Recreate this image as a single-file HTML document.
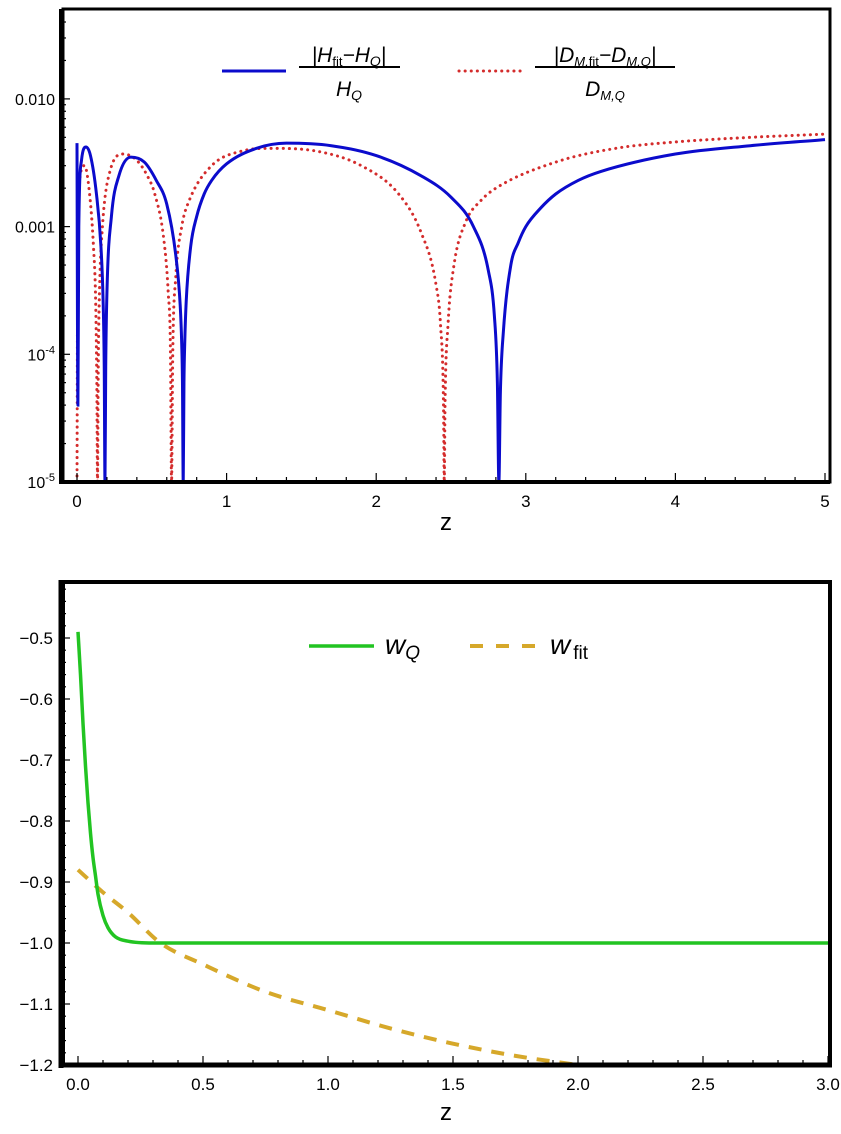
<!DOCTYPE html>
<html><head><meta charset="utf-8"><style>
html,body{margin:0;padding:0;background:#fff;}
svg{display:block;font-family:"Liberation Sans",Arial,sans-serif;}
</style></head><body>
<svg id="fig" width="841" height="1134" viewBox="0 0 841 1134" xmlns="http://www.w3.org/2000/svg">
<defs><clipPath id="cT"><rect x="61" y="9" width="769" height="473"/></clipPath></defs>
<g id="topChart"></g>
<g id="botChart"></g>
</svg>
<script>
// ---- top chart data ----
const hZ = [0,0.003,0.006,0.012,0.03,0.06,0.09,0.13,0.16,0.175,0.182,0.187,0.192,0.2,0.23,0.28,0.36,0.45,0.53,0.6,0.66,0.69,0.7,0.705,0.71,0.715,0.72,0.73,0.76,0.8,0.85,0.9,1.0,1.2,1.4,1.7,2.0,2.3,2.5,2.65,2.75,2.79,2.81,2.82,2.83,2.85,2.9,2.95,3.0,3.1,3.2,3.35,3.5,4.0,4.5,5.0];
const hVal = [4.5e-3,2e-4,4e-5,1e-3,3.3e-3,4.2e-3,3.6e-3,1.8e-3,7e-4,2.5e-4,8e-5,1e-5,8e-5,3e-4,1.2e-3,2.5e-3,3.5e-3,3.2e-3,2.3e-3,1.5e-3,6e-4,2.4e-4,1.2e-4,6e-5,1e-5,6e-5,1.2e-4,2.6e-4,7e-4,1.2e-3,1.8e-3,2.3e-3,3.1e-3,4.1e-3,4.5e-3,4.3e-3,3.6e-3,2.5e-3,1.7e-3,1e-3,4.5e-4,2e-4,6e-5,1e-5,5e-5,1.5e-4,5e-4,7.5e-4,1e-3,1.4e-3,1.8e-3,2.3e-3,2.7e-3,3.7e-3,4.3e-3,4.8e-3];
const dZ = [0,0.004,0.012,0.03,0.05,0.08,0.11,0.125,0.133,0.137,0.142,0.15,0.17,0.22,0.31,0.4,0.47,0.52,0.58,0.61,0.625,0.632,0.64,0.66,0.7,0.75,0.9,1.1,1.3,1.6,1.9,2.15,2.3,2.4,2.43,2.45,2.455,2.46,2.48,2.52,2.6,2.7,2.8,3.2,3.6,4.0,4.5,5.0];
const dVal = [1e-5,3e-4,1.5e-3,2.8e-3,3e-3,2e-3,7e-4,2.5e-4,5e-5,1e-5,8e-5,3e-4,1e-3,2.7e-3,3.7e-3,3.3e-3,2.5e-3,1.8e-3,8e-4,3e-4,1e-4,1e-5,1e-4,4e-4,1e-3,1.6e-3,3e-3,3.9e-3,4.1e-3,3.9e-3,3e-3,1.8e-3,9e-4,3.5e-4,1.7e-4,4e-5,1e-5,4e-5,1.7e-4,5e-4,1.1e-3,1.6e-3,2e-3,3.2e-3,4.1e-3,4.6e-3,5e-3,5.3e-3];
const topXTicks = [0,1,2,3,4,5];
const topYTicks = [1e-5,1e-4,1e-3,1e-2];
const topYLabels = ["10<tspan dy='-7' font-size='11'>-5</tspan>","10<tspan dy='-7' font-size='11'>-4</tspan>","0.001","0.010"];
// ---- bottom chart data ----
const wQZ = [0,0.01,0.02,0.03,0.04,0.05,0.06,0.07,0.08,0.1,0.12,0.15,0.2,0.3,3.0];
const wQVal = [-0.49,-0.56,-0.64,-0.71,-0.77,-0.82,-0.86,-0.89,-0.92,-0.955,-0.975,-0.99,-0.997,-1.0,-1.0];
const wFZ = [0,0.1,0.2,0.33,0.5,0.75,1.0,1.25,1.5,1.75,2.0];
const wFVal = [-0.88,-0.917,-0.95,-1.0,-1.035,-1.08,-1.11,-1.14,-1.165,-1.185,-1.2];
const botXTicks = [0,0.5,1.0,1.5,2.0,2.5,3.0];
const botYTicks = [-1.2,-1.1,-1.0,-0.9,-0.8,-0.7,-0.6,-0.5];

const NS="http://www.w3.org/2000/svg";
function mk(parent,tag,attrs){const e=document.createElementNS(NS,tag);for(const k in attrs)e.setAttribute(k,attrs[k]);parent.appendChild(e);return e;}
// monotone cubic path through screen points
function monoPath(P){
  const n=P.length;if(n<2)return '';
  const d=[],m=[];
  for(let i=0;i<n-1;i++)d.push((P[i+1][1]-P[i][1])/Math.max(P[i+1][0]-P[i][0],1e-6));
  m[0]=d[0];m[n-1]=d[n-2];
  for(let i=1;i<n-1;i++){m[i]=(d[i-1]*d[i]<=0)?0:(d[i-1]+d[i])/2;}
  for(let i=0;i<n-1;i++){if(d[i]===0){m[i]=0;m[i+1]=0;continue;}const a=m[i]/d[i],b=m[i+1]/d[i],s=a*a+b*b;if(s>9){const t=3/Math.sqrt(s);m[i]=t*a*d[i];m[i+1]=t*b*d[i];}}
  let s='M'+P[0][0].toFixed(2)+','+P[0][1].toFixed(2);
  for(let i=0;i<n-1;i++){const h=(P[i+1][0]-P[i][0])/3;
    s+=' C'+(P[i][0]+h).toFixed(2)+','+(P[i][1]+m[i]*h).toFixed(2)+' '+(P[i+1][0]-h).toFixed(2)+','+(P[i+1][1]-m[i+1]*h).toFixed(2)+' '+P[i+1][0].toFixed(2)+','+P[i+1][1].toFixed(2);}
  return s;
}

// top axes
const T={l:61,r:830,t:9,b:482};
const tx=z=>77+z*149.6;
const ty=v=>482-(Math.log10(v)+5)*127.7;
const topG=document.getElementById('topChart');
function pts(xs,ys,fx,fy,lim){return xs.map((x,i)=>[fx(x),Math.min(fy(ys[i]),lim)]);}
const dl=mk(topG,'path',{d:monoPath(pts(dZ,dVal,tx,ty,T.b+3)),fill:'none',stroke:'#d42c2c','stroke-width':3,'stroke-dasharray':'0.1 6','stroke-linecap':'round','clip-path':'url(#cT)'});


const hl=mk(topG,'path',{d:monoPath(pts(hZ,hVal,tx,ty,T.b+3)),fill:'none',stroke:'#0b0bcc','stroke-width':3,'clip-path':'url(#cT)'});


mk(topG,'rect',{x:T.l+2,y:T.t,width:T.r-T.l-2,height:T.b-T.t,fill:'none',stroke:'#000','stroke-width':3});
mk(topG,'line',{x1:T.l,y1:T.t,x2:T.l,y2:T.b+2,stroke:'#000','stroke-width':4});
mk(topG,'line',{x1:T.l,y1:T.b,x2:T.r,y2:T.b,stroke:'#000','stroke-width':4});
for(let i=0;i<=25;i++){const x=tx(i*0.2);const maj=i%5==0;mk(topG,'line',{x1:x,y1:T.b,x2:x,y2:T.b-(maj?9:5),stroke:'#000','stroke-width':1.2});}
topXTicks.forEach(v=>{const t=mk(topG,'text',{x:tx(v),y:507,'font-size':17,'text-anchor':'middle'});t.textContent=v;

});
for(let d=-5;d<-1;d++)for(let m=1;m<10;m++){const v=m*Math.pow(10,d);const y=ty(v);if(y<T.t)continue;mk(topG,'line',{x1:T.l,y1:y,x2:T.l+(m==1?9:5),y2:y,stroke:'#000','stroke-width':1.2});}
topYTicks.forEach((v,i)=>{const t=mk(topG,'text',{x:55,y:ty(v)+6,'font-size':16,'text-anchor':'end'});t.innerHTML=topYLabels[i];

});
const zt=mk(topG,'text',{x:446,y:530,'font-size':24,'text-anchor':'middle'});zt.textContent='z';


// legend top
const lg=mk(topG,'g',{});


mk(lg,'line',{x1:222,y1:71,x2:286,y2:71,stroke:'#0b0bcc','stroke-width':3});
mk(lg,'line',{x1:299,y1:67,x2:400,y2:67,stroke:'#000','stroke-width':2});
const l1=mk(lg,'text',{x:349,y:62,'font-size':21,'text-anchor':'middle','font-style':'italic'});
l1.innerHTML='|H<tspan font-size="13" font-style="normal" dy="4">fit</tspan><tspan dy="-4">−H</tspan><tspan font-size="14" dy="4">Q</tspan><tspan dy="-4">|</tspan>';
const l2=mk(lg,'text',{x:349,y:96,'font-size':21,'text-anchor':'middle','font-style':'italic'});
l2.innerHTML='H<tspan font-size="14" dy="4">Q</tspan>';
mk(lg,'line',{x1:459,y1:71,x2:523,y2:71,stroke:'#d42c2c','stroke-width':3,'stroke-dasharray':'0.1 6','stroke-linecap':'round'});
mk(lg,'line',{x1:535,y1:67,x2:675,y2:67,stroke:'#000','stroke-width':2});
const l3=mk(lg,'text',{x:605,y:62,'font-size':21,'text-anchor':'middle','font-style':'italic'});
l3.innerHTML='|D<tspan font-size="13" dy="4">M,</tspan><tspan font-size="13" font-style="normal">fit</tspan><tspan dy="-4">−D</tspan><tspan font-size="13" dy="4">M,Q</tspan><tspan dy="-4">|</tspan>';
const l4=mk(lg,'text',{x:605,y:96,'font-size':21,'text-anchor':'middle','font-style':'italic'});
l4.innerHTML='D<tspan font-size="13" dy="4">M,Q</tspan>';

// bottom axes
const B={l:61,r:830,t:582,b:1065};
const bx=z=>78+z*250;
const by=v=>1065-(v+1.2)*610;
const botG=document.getElementById('botChart');
const fl=mk(botG,'path',{d:monoPath(pts(wFZ,wFVal,bx,by,2000)),fill:'none',stroke:'#d6a82a','stroke-width':4,'stroke-dasharray':'13 10'});


const gl=mk(botG,'path',{d:monoPath(pts(wQZ,wQVal,bx,by,2000)),fill:'none',stroke:'#22c422','stroke-width':3.5});


mk(botG,'rect',{x:B.l+2,y:B.t,width:B.r-B.l-2,height:B.b-B.t,fill:'none',stroke:'#000','stroke-width':4});
mk(botG,'line',{x1:B.l,y1:B.t-2,x2:B.l,y2:B.b+3,stroke:'#000','stroke-width':5});
mk(botG,'line',{x1:B.l,y1:B.b,x2:B.r+2,y2:B.b,stroke:'#000','stroke-width':5});
for(let i=0;i<=30;i++){const x=bx(i*0.1);const maj=i%5==0;mk(botG,'line',{x1:x,y1:B.b,x2:x,y2:B.b-(maj?9:5),stroke:'#000','stroke-width':1.2});}
for(let i=0;i<=39;i++){const y=by(-1.2+i*0.02);if(y<B.t+2)continue;mk(botG,'line',{x1:B.l,y1:y,x2:B.l+(i%5==0?9:5),y2:y,stroke:'#000','stroke-width':1.2});}
botXTicks.forEach(v=>{const t=mk(botG,'text',{x:bx(v),y:1090,'font-size':17,'text-anchor':'middle'});t.textContent=v.toFixed(1);

});
botYTicks.forEach(v=>{const t=mk(botG,'text',{x:53,y:by(v)+6,'font-size':17,'text-anchor':'end'});t.textContent='−'+Math.abs(v).toFixed(1);

});
const zb=mk(botG,'text',{x:446,y:1120,'font-size':24,'text-anchor':'middle'});zb.textContent='z';


const lb=mk(botG,'g',{});


mk(lb,'line',{x1:309,y1:646,x2:374,y2:646,stroke:'#22c422','stroke-width':3.5});
mk(lb,'line',{x1:470,y1:646,x2:538,y2:646,stroke:'#d6a82a','stroke-width':4,'stroke-dasharray':'13 13'});
const l5=mk(lb,'text',{x:385,y:654,'font-size':28,'font-style':'italic'});
l5.innerHTML='w<tspan font-size="19" dy="5">Q</tspan>';
const l6=mk(lb,'text',{x:550,y:654,'font-size':28,'font-style':'italic'});
l6.innerHTML='w<tspan font-size="19" font-style="normal" dy="5" dx="3">fit</tspan>';
</script>
</body></html>
